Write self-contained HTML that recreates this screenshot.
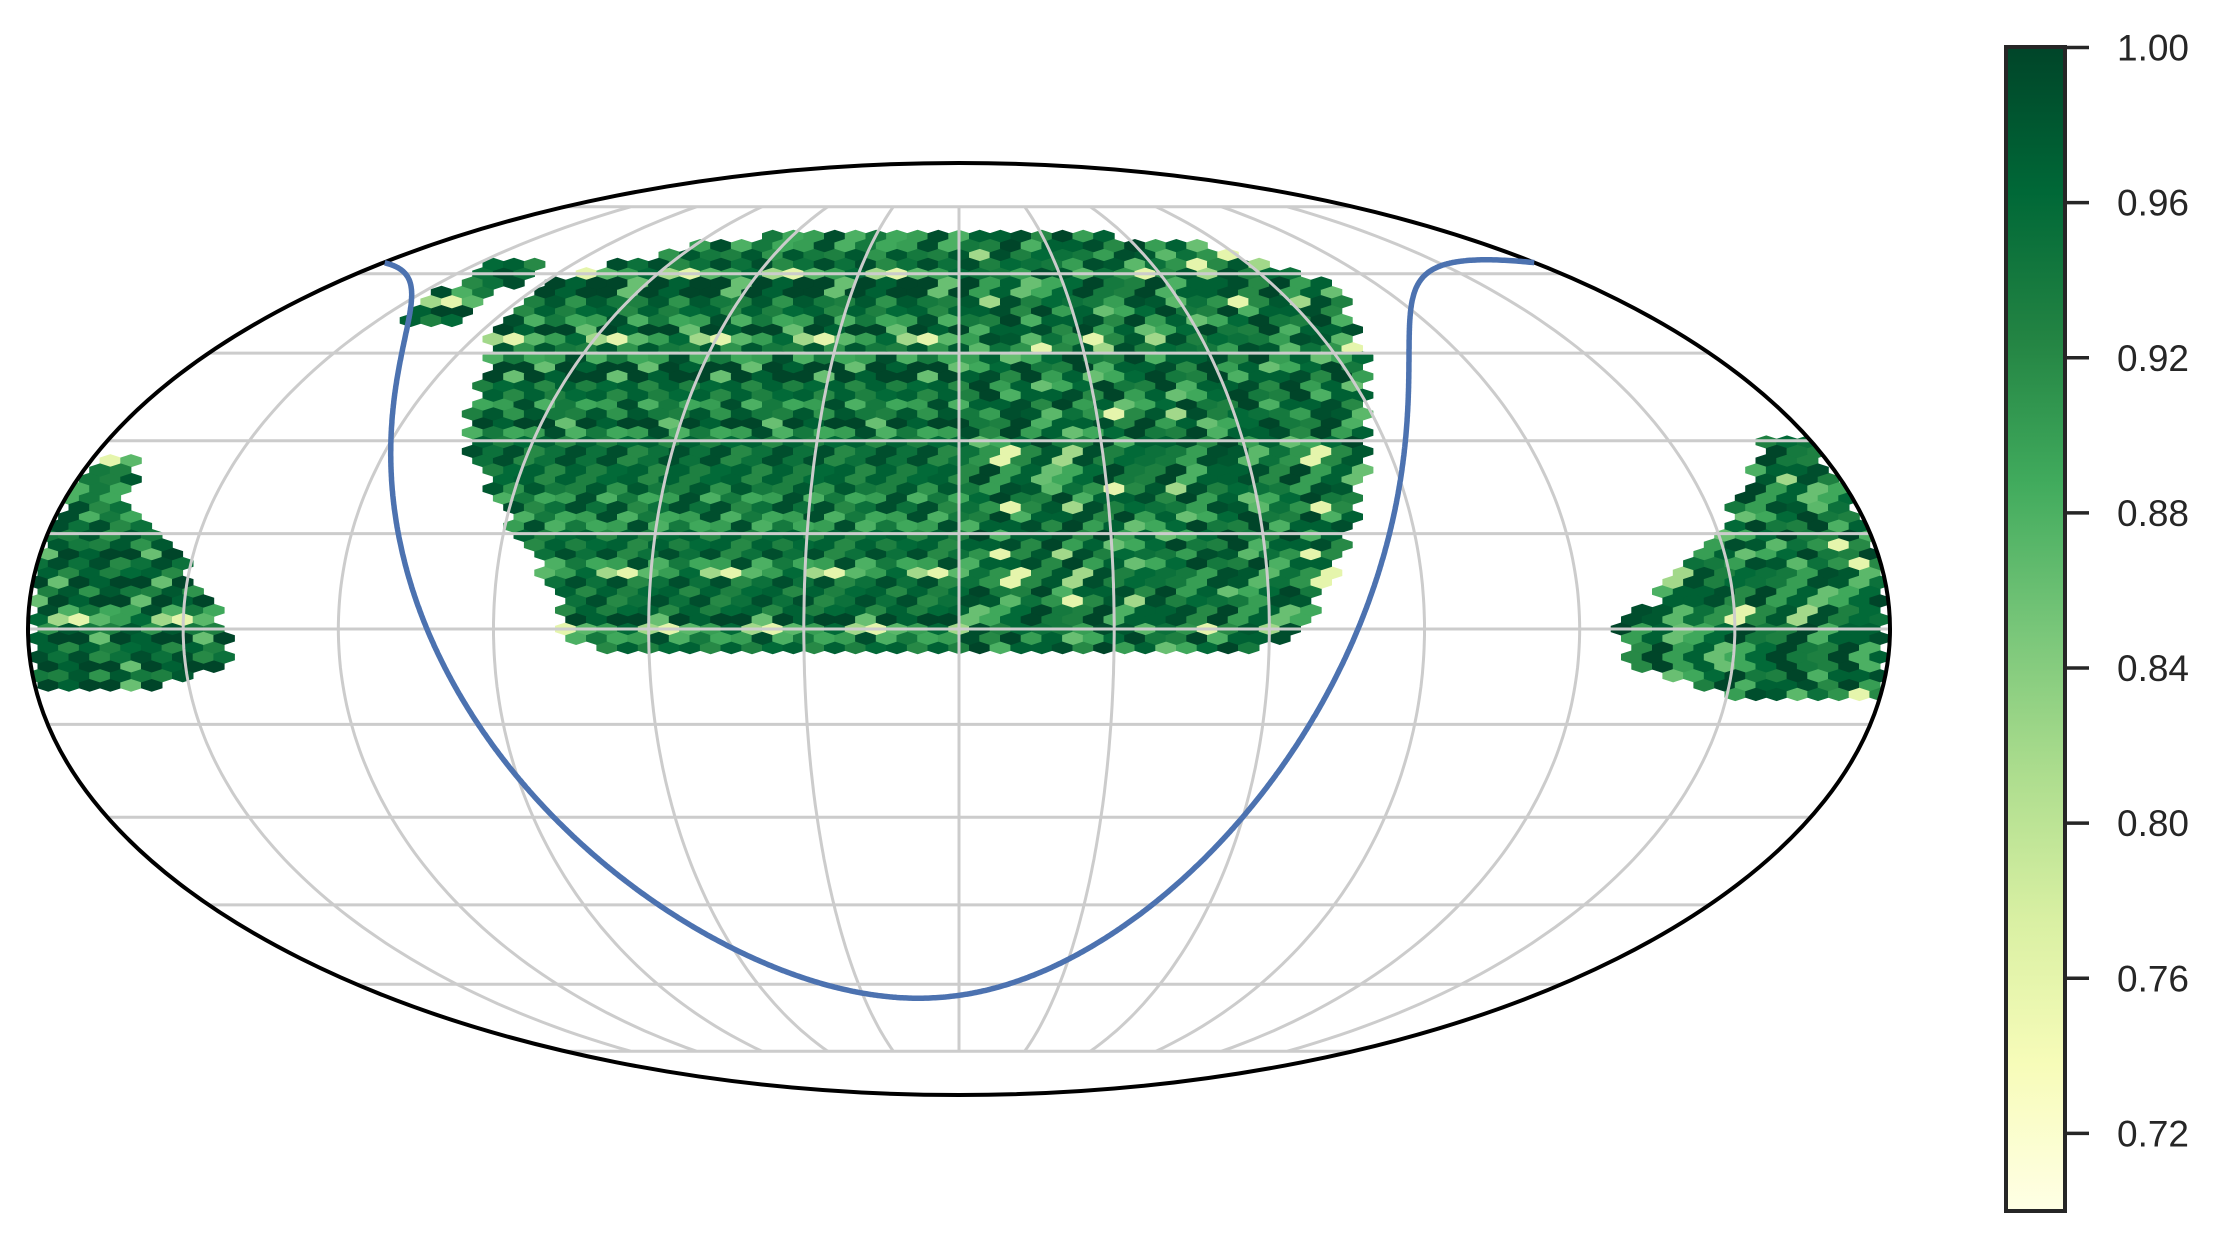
<!DOCTYPE html>
<html><head><meta charset="utf-8">
<style>
html,body{margin:0;padding:0;background:#fff;}
svg{display:block;font-family:"Liberation Sans",Arial,sans-serif;}
</style></head>
<body>
<svg id="chart" width="2225" height="1241" viewBox="0 0 2225 1241" xmlns="http://www.w3.org/2000/svg">
  <defs>
    <clipPath id="ellclip"><ellipse cx="959" cy="629" rx="931" ry="466"/></clipPath>
    <linearGradient id="ylgn" x1="0" y1="1" x2="0" y2="0">
      <stop offset="0" stop-color="#ffffe5"/>
      <stop offset="0.125" stop-color="#f7fcb9"/>
      <stop offset="0.25" stop-color="#d9f0a3"/>
      <stop offset="0.375" stop-color="#addd8e"/>
      <stop offset="0.5" stop-color="#78c679"/>
      <stop offset="0.625" stop-color="#41ab5d"/>
      <stop offset="0.75" stop-color="#238443"/>
      <stop offset="0.875" stop-color="#006837"/>
      <stop offset="1" stop-color="#004529"/>
    </linearGradient>
  </defs>
  <g id="hexes" clip-path="url(#ellclip)"></g>
  <g id="grid" clip-path="url(#ellclip)"></g>
  <ellipse cx="959" cy="629" rx="931" ry="466" fill="none" stroke="#000" stroke-width="4"/>
  <g id="plane"></g>
  <g id="cbar">
    <rect x="2006" y="47" width="59" height="1164" fill="url(#ylgn)" stroke="#262626" stroke-width="4"/>
  </g>
</svg>
<script>
// ---- data ----
const cbTicks = [0.72, 0.76, 0.80, 0.84, 0.88, 0.92, 0.96, 1.00];
const cbMin = 0.70, cbMax = 1.00;
// footprint patches: latitude rows (deg) and plotted longitude limits (deg)
const mainLat    = [69, 66, 62.4, 58, 49.8, 42.2, 30.1, 20.9, 14, 5.1, -2.5, -4];
const mainLonMin = [-55, -90, -105, -117, -117, -111, -104, -93, -87, -77, -76, -60];
const mainLonMax = [45, 85, 95, 108, 100, 95, 87, 81, 77, 70, 64, 50];
const nwLat    = [62, 56, 50];
const nwLonMin = [-146, -146, -142];
const nwLonMax = [-128, -128, -130];
const eastLat    = [30, 20.9, 11.9, 4, 0.7, -6, -10.5];
const eastLonMin = [169, 158, 144, 134, 127, 130, 151];
const eastLonMax = [180, 180, 180, 180, 180, 180, 180];
const westLat    = [27, 18.6, 11.9, 0.5, -6, -9.5];
const westLonMin = [-180, -180, -180, -180, -180, -180];
const westLonMax = [-171, -166, -152, -142, -141, -160];
// cell values (read roughly from the map, cycled over cells)
const cellValues = [0.99, 0.93, 0.97, 0.90, 1.00, 0.95, 0.88, 0.98, 0.92, 0.96, 0.86, 0.99, 0.94, 0.91, 0.97, 0.82, 1.00, 0.95, 0.89, 0.98, 0.93, 0.76, 0.97, 0.99, 0.90, 0.94, 0.96, 0.87, 1.00, 0.92];
// graticule
const latLines = [-75, -60, -45, -30, -15, 0, 15, 30, 45, 60, 75];
const lonLines = [-150, -120, -90, -60, -30, 0, 30, 60, 90, 120, 150];

// ---- projection ----
const CX = 959, CY = 629, RX = 931, RY = 466;
const NS = 'http://www.w3.org/2000/svg';
function theta(latDeg){
  const phi = latDeg*Math.PI/180;
  if (Math.abs(Math.abs(phi)-Math.PI/2) < 1e-9) return phi;
  let t = phi;
  for (let i=0;i<50;i++){ const f=2*t+Math.sin(2*t)-Math.PI*Math.sin(phi); const d=2+2*Math.cos(2*t); if (Math.abs(d)<1e-12) break; t-=f/d; }
  return t;
}
function proj(lon, lat){ const t=theta(lat); return [CX + RX*(lon/180)*Math.cos(t), CY - RY*Math.sin(t)]; }
function inv(x, y){
  const s=(CY-y)/RY; if (Math.abs(s)>=1) return null;
  const t=Math.asin(s); const sp=(2*t+Math.sin(2*t))/Math.PI;
  return [ (x-CX)/RX*180/Math.cos(t), Math.asin(sp)*180/Math.PI ];
}
function ylgn(v){
  const stops=['#ffffe5','#f7fcb9','#d9f0a3','#addd8e','#78c679','#41ab5d','#238443','#006837','#004529'];
  let f=(v-cbMin)/(cbMax-cbMin); f=Math.max(0,Math.min(1,f))*8;
  const i=Math.min(7,Math.floor(f)), r=f-i;
  const a=stops[i], b=stops[i+1];
  const c=k=>Math.round(parseInt(a.substr(k,2),16)*(1-r)+parseInt(b.substr(k,2),16)*r);
  return 'rgb('+c(1)+','+c(3)+','+c(5)+')';
}
function inPatch(lon, lat, lats, mins, maxs){
  for (let i=0;i<lats.length-1;i++){
    const a=lats[i], b=lats[i+1];
    if (lat<=a && lat>=b){
      const r=(a-lat)/(a-b);
      const lo=mins[i]+(mins[i+1]-mins[i])*r, hi=maxs[i]+(maxs[i+1]-maxs[i])*r;
      return lon>=lo && lon<=hi;
    }
  }
  return false;
}

// ---- hexbin cells ----
const hexG = document.getElementById('hexes');
const W = 20.7, S = 18.7;
let idx = 0;
for (let lattice=0; lattice<2; lattice++){
  for (let j=-30; j<=30; j++){
    const y = CY + j*S + (lattice? S/2:0);
    for (let i=-50; i<=50; i++){
      const x = CX + i*W + (lattice? W/2:0);
      const ll = inv(x, y); if (!ll) continue;
      const [lon, lat] = ll; if (Math.abs(lon)>182) continue;
      if (!(inPatch(lon,lat,mainLat,mainLonMin,mainLonMax) || inPatch(lon,lat,nwLat,nwLonMin,nwLonMax) ||
            inPatch(lon,lat,eastLat,eastLonMin,eastLonMax) || inPatch(lon,lat,westLat,westLonMin,westLonMax))) continue;
      const v = cellValues[(idx*7 + Math.abs(j)*3 + Math.abs(i)) % cellValues.length];
      idx++;
      const p = document.createElementNS(NS,'polygon');
      const hw=W/2+0.4, h1=S/6, h2=S/3+0.4;
      p.setAttribute('points', [[x-hw,y-h1],[x,y-h2],[x+hw,y-h1],[x+hw,y+h1],[x,y+h2],[x-hw,y+h1]].map(q=>q[0].toFixed(1)+','+q[1].toFixed(1)).join(' '));
      p.setAttribute('fill', ylgn(v));
      
      
      hexG.appendChild(p);
    }
  }
}

// ---- graticule ----
const gridG = document.getElementById('grid');
latLines.forEach(lat=>{
  const a=proj(-180,lat), b=proj(180,lat);
  const l=document.createElementNS(NS,'line');
  l.setAttribute('x1',a[0]); l.setAttribute('y1',a[1]); l.setAttribute('x2',b[0]); l.setAttribute('y2',b[1]);
  l.setAttribute('stroke','#cccccc'); l.setAttribute('stroke-width','3');
  
  
  gridG.appendChild(l);
});
lonLines.forEach(lon=>{
  let d='';
  for (let lat=-75; lat<=75; lat+=1){ const p=proj(lon,lat); d+=(lat===-75?'M':'L')+p[0].toFixed(1)+','+p[1].toFixed(1); }
  const path=document.createElementNS(NS,'path');
  path.setAttribute('d',d); path.setAttribute('fill','none');
  path.setAttribute('stroke','#cccccc'); path.setAttribute('stroke-width','3');
  
  
  gridG.appendChild(path);
});

// ---- galactic plane (b=0) in equatorial coords ----
const raNGP=192.85948*Math.PI/180, decNGP=27.12825*Math.PI/180, lNCP=122.93192*Math.PI/180;
let pts=[];
for (let k=0;k<=1440;k++){
  const l=k/4*Math.PI/180;
  const dec=Math.asin(Math.cos(decNGP)*Math.cos(lNCP-l));
  let ra=raNGP+Math.atan2(Math.sin(lNCP-l), -Math.sin(decNGP)*Math.cos(lNCP-l));
  let raDeg=((ra*180/Math.PI)%360+360)%360; if (raDeg>180) raDeg-=360;
  pts.push([-raDeg, -dec*180/Math.PI]);
}
let dPlane='', prev=null;
pts.forEach(p=>{
  const q=proj(p[0],p[1]);
  dPlane += ((prev===null || Math.abs(p[0]-prev)>180)?'M':'L') + q[0].toFixed(1)+','+q[1].toFixed(1);
  prev=p[0];
});
const planePath=document.createElementNS(NS,'path');
planePath.setAttribute('d',dPlane); planePath.setAttribute('fill','none');
planePath.setAttribute('stroke','#4c72b0'); planePath.setAttribute('stroke-width','5.5');


document.getElementById('plane').appendChild(planePath);

// ---- colorbar ticks ----
const cb=document.getElementById('cbar');
const cbTop=47.5, cbBot=1211;
cbTicks.forEach(t=>{
  const y=cbBot-(t-cbMin)/(cbMax-cbMin)*(cbBot-cbTop);
  const l=document.createElementNS(NS,'line');
  l.setAttribute('x1',2067); l.setAttribute('x2',2089); l.setAttribute('y1',y); l.setAttribute('y2',y);
  l.setAttribute('stroke','#262626'); l.setAttribute('stroke-width','3.5');
  
  
  cb.appendChild(l);
  const tx=document.createElementNS(NS,'text');
  tx.setAttribute('x',2117); tx.setAttribute('y',y+13);
  tx.setAttribute('font-size','37'); tx.setAttribute('fill','#262626');
  tx.textContent=t.toFixed(2);
  
  
  cb.appendChild(tx);
});
</script>
</body></html>
